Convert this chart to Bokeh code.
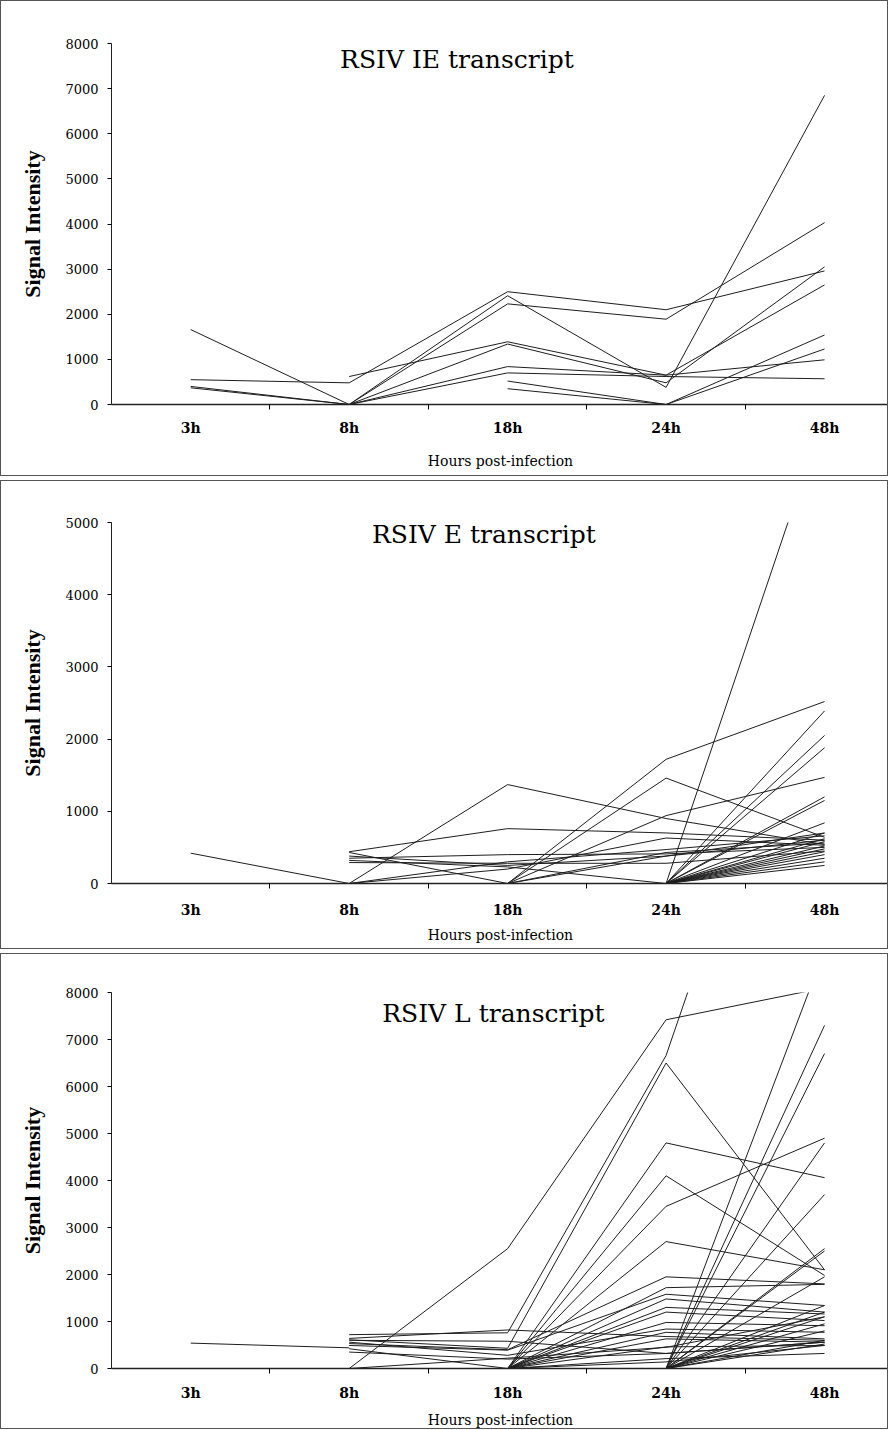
from bokeh.plotting import figure
from bokeh.layouts import column
from bokeh.models import Range1d, FixedTicker, Label, ColumnDataSource
from bokeh.embed import file_html
from bokeh.resources import INLINE

categories = ["3h", "8h", "18h", "24h", "48h"]

ie_ticks = [0, 1000, 2000, 3000, 4000, 5000, 6000, 7000, 8000]
e_ticks = [0, 1000, 2000, 3000, 4000, 5000]
l_ticks = [0, 1000, 2000, 3000, 4000, 5000, 6000, 7000, 8000]

# RSIV IE transcript: one row per gene, values at 3h, 8h, 18h, 24h, 48h (None = not detected)
ie_series = [
    [550, 480, 2500, 2100, 2960],
    [1660, 0, 2410, 380, 6850],
    [400, 0, 2230, 1890, 4030],
    [370, 0, 1340, 480, 3050],
    [None, 620, 1390, 650, 2650],
    [None, 0, 840, 650, 990],
    [None, 0, 700, 620, 570],
    [None, None, 520, 0, 1540],
    [None, None, 350, 0, 1230],
]

# RSIV E transcript
e_series = [
    [420, 0, 1370, 900, 540],
    [None, 440, 760, 700, 600],
    [None, 430, 0, 1720, 2520],
    [None, 350, 400, 410, 500],
    [None, 320, 230, 0, 6500],
    [None, 290, 280, 280, 450],
    [None, 0, 200, 630, 530],
    [None, 0, 300, 470, 660],
    [None, 380, 250, 380, 600],
    [None, None, 0, 1460, 640],
    [None, None, 0, 940, 1470],
    [None, None, 0, 380, 700],
    [None, None, 0, 430, 560],
    [None, None, None, 0, 2390],
    [None, None, None, 0, 2050],
    [None, None, None, 0, 1880],
    [None, None, None, 0, 1200],
    [None, None, None, 0, 1150],
    [None, None, None, 0, 840],
    [None, None, None, 0, 700],
    [None, None, None, 0, 620],
    [None, None, None, 0, 580],
    [None, None, None, 0, 520],
    [None, None, None, 0, 480],
    [None, None, None, 0, 440],
    [None, None, None, 0, 400],
    [None, None, None, 0, 350],
    [None, None, None, 0, 300],
    [None, None, None, 0, 250],
]

# RSIV L transcript
l_series = [
    [540, 440, None, None, None],
    [None, 0, 2550, 7420, 8100],
    [None, 720, 760, 6660, 16500],
    [None, 610, 430, 6500, 2100],
    [None, None, 0, 4800, 4060],
    [None, None, 0, 4100, 1980],
    [None, None, 0, 3450, 4900],
    [None, None, 0, 2700, 2100],
    [None, 530, 400, 1950, 1800],
    [None, None, 0, 1720, 1790],
    [None, 490, 390, 1580, 1340],
    [None, None, 0, 1480, 1200],
    [None, None, 0, 1300, 1160],
    [None, None, 0, 1200, 1020],
    [None, None, 0, 980, 910],
    [None, 560, 280, 840, 770],
    [None, None, 0, 770, 630],
    [None, None, 0, 630, 560],
    [None, 420, 0, 460, 490],
    [None, 350, 200, 320, 560],
    [None, None, 0, 210, 320],
    [None, None, 0, 140, 490],
    [None, 0, 220, 450, 1100],
    [None, 600, 580, 320, 560],
    [None, 640, 820, 680, 600],
    [None, None, None, 0, 8900],
    [None, None, None, 0, 7300],
    [None, None, None, 0, 6700],
    [None, None, None, 0, 4800],
    [None, None, None, 0, 3700],
    [None, None, None, 0, 2550],
    [None, None, None, 0, 2500],
    [None, None, None, 0, 1950],
    [None, None, None, 0, 1340],
    [None, None, None, 0, 1200],
    [None, None, None, 0, 1100],
    [None, None, None, 0, 950],
    [None, None, None, 0, 800],
    [None, None, None, 0, 600],
    [None, None, None, 0, 520],
]

titles = ["RSIV IE transcript", "RSIV E transcript", "RSIV L transcript"]
x_label = "Hours post-infection"
y_label = "Signal Intensity"


def make_panel(series, ymax, yticks, title, height, b_top, b_bottom,
               tick_standoff, label_standoff, title_x, title_y):
    p = figure(width=888, height=height, output_backend="svg", toolbar_location=None,
               x_range=Range1d(-0.5, 4.41), y_range=Range1d(0, ymax),
               min_border_left=110, min_border_right=0,
               min_border_top=b_top, min_border_bottom=b_bottom)
    p.styles = {"border": "1px solid #555"}
    p.outline_line_color = None
    p.xgrid.visible = False
    p.ygrid.visible = False
    p.background_fill_color = "white"
    p.border_fill_color = "white"

    xs, ys = [], []
    for s in series:
        px = [i for i, v in enumerate(s) if v is not None]
        py = [v for v in s if v is not None]
        xs.append(px)
        ys.append(py)
    src = ColumnDataSource(dict(xs=xs, ys=ys))
    p.multi_line("xs", "ys", source=src, line_color="#1e1e1e", line_width=1)

    xa = p.xaxis[0]
    xa.ticker = FixedTicker(ticks=list(range(len(categories))),
                            minor_ticks=[i + 0.5 for i in range(len(categories) - 1)])
    xa.major_label_overrides = {i: c for i, c in enumerate(categories)}
    xa.major_tick_line_color = None
    xa.major_tick_out = 0
    xa.major_tick_in = 0
    xa.minor_tick_out = 5
    xa.minor_tick_in = 0
    xa.minor_tick_line_color = "black"
    xa.axis_line_color = "#222"
    xa.axis_line_width = 1.3
    xa.major_label_standoff = tick_standoff
    xa.major_label_text_font = "DejaVu Serif"
    xa.major_label_text_font_style = "bold"
    xa.major_label_text_font_size = "14px"
    xa.major_label_text_color = "black"
    xa.axis_label = x_label
    xa.axis_label_text_font = "DejaVu Serif"
    xa.axis_label_text_font_style = "normal"
    xa.axis_label_text_font_size = "14px"
    xa.axis_label_text_color = "black"
    xa.axis_label_standoff = label_standoff

    ya = p.yaxis[0]
    ya.ticker = FixedTicker(ticks=yticks, minor_ticks=[])
    ya.major_tick_out = 4
    ya.major_tick_in = 0
    ya.major_tick_line_color = "black"
    ya.minor_tick_line_color = None
    ya.axis_line_color = "#222"
    ya.major_label_standoff = 9
    ya.major_label_text_font = "DejaVu Serif"
    ya.major_label_text_font_size = "13px"
    ya.major_label_text_color = "black"
    ya.axis_label = y_label
    ya.axis_label_text_font = "Liberation Serif"
    ya.axis_label_text_font_style = "bold"
    ya.axis_label_text_font_size = "22px"
    ya.axis_label_text_color = "black"
    ya.axis_label_standoff = 17

    p.add_layout(Label(x=title_x, y=title_y, text=title, text_font="DejaVu Serif",
                       text_font_size="25px", text_align="center", text_baseline="middle",
                       text_color="black"))
    return p


p1 = make_panel(ie_series, 8000, ie_ticks, titles[0], 476, 42, 73, 10, 14, 1.68, 7650)
p2 = make_panel(e_series, 5000, e_ticks, titles[1], 469, 41, 67, 13, 6, 1.85, 4840)
p3 = make_panel(l_series, 8000, l_ticks, titles[2], 476, 38, 57, 11, 8, 1.91, 7560)

layout = column(p1, p2, p3, spacing=4)
open("out.html", "w").write(file_html(layout, INLINE))
